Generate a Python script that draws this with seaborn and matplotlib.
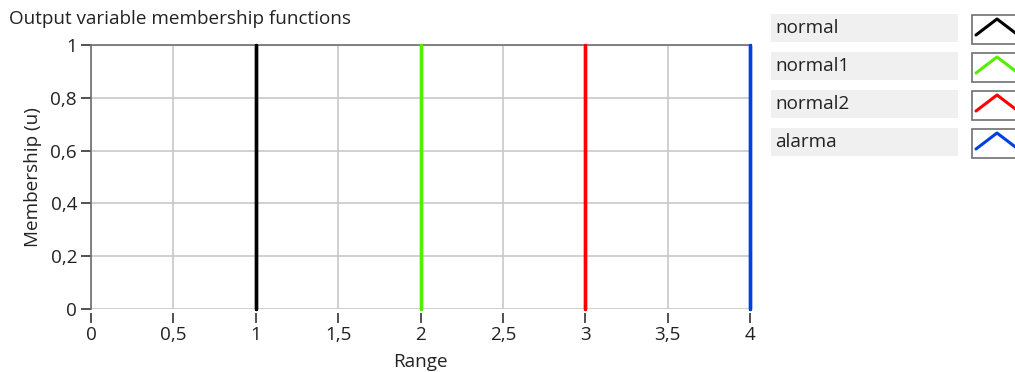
import matplotlib as mpl
mpl.use("Agg")
import matplotlib.pyplot as plt
import seaborn as sns
import pandas as pd
from matplotlib.ticker import FuncFormatter
from matplotlib.patches import Rectangle

# membership functions (singletons drawn as degenerate triangles)
nombres = ["normal", "normal1", "normal2", "alarma"]
centros = [1, 2, 3, 4]
colores = ["#000000", "#55ee00", "#ff0000", "#0040e0"]
triangulo_y = [0, 1, 0]

x_ticks = [0, 0.5, 1, 1.5, 2, 2.5, 3, 3.5, 4]
y_ticks = [0, 0.2, 0.4, 0.6, 0.8, 1]

filas = []
for n, c in zip(nombres, centros):
  for i, yv in enumerate(triangulo_y):
    filas.append({"nombre": n, "x": c, "y": yv, "orden": i})
df = pd.DataFrame(filas)

sns.set_style("white")
plt.rcParams['font.family'] = ['Open Sans', 'DejaVu Sans']
FS = 13.6
TXT = "#222222"

W, H = 1015, 372
fig = plt.figure(figsize=(W / 100, H / 100), dpi=100)

def px(x0, y0, x1, y1):
  return [x0 / W, 1 - y1 / H, (x1 - x0) / W, (y1 - y0) / H]

ax = fig.add_axes(px(91, 45, 750, 309))
sns.lineplot(data=df, x="x", y="y", hue="nombre", palette=dict(zip(nombres, colores)),
             estimator=None, sort=False, units="nombre", linewidth=2.4, legend=False, ax=ax)
for ln in ax.lines:
  ln.set_clip_on(False)
  ln.set_zorder(4)

ax.set_xlim(0, 4)
ax.set_ylim(0, 1)
ax.set_xticks(x_ticks)
ax.set_yticks(y_ticks)
fmt = FuncFormatter(lambda v, p: f"{v:g}".replace(".", ","))
ax.xaxis.set_major_formatter(fmt)
ax.yaxis.set_major_formatter(fmt)
ax.grid(True, color="#c8c8c8", linewidth=1.2)
ax.set_axisbelow(True)
for s in ["left", "top"]:
  ax.spines[s].set_color("#6e6e6e")
  ax.spines[s].set_linewidth(1.2)
ax.spines["right"].set_color("#c8c8c8")
ax.spines["right"].set_linewidth(1.2)
# bottom ticks sit a little below the plot area
ax.spines["bottom"].set_position(("outward", 3))
ax.spines["bottom"].set_color("none")
ax.tick_params(axis="y", direction="out", length=7, width=1.2, color="#333333",
               labelsize=FS, pad=3, left=True, labelcolor=TXT)
ax.tick_params(axis="x", direction="out", length=7, width=1.2, color="#333333",
               labelsize=FS, pad=2, bottom=True, labelcolor=TXT)
ax.set_xlabel("Range", fontsize=FS, labelpad=7, color=TXT)
ax.set_ylabel("Membership (u)", fontsize=FS, labelpad=6, color=TXT)
fig.text(9 / W, 1 - 19 / H, "Output variable membership functions", fontsize=FS,
         va="center", ha="left", color=TXT)

# legend panel
lg = fig.add_axes([0, 0, 1, 1])
lg.set_xlim(0, W)
lg.set_ylim(H, 0)
lg.axis("off")
for i, (n, col) in enumerate(zip(nombres, colores)):
  y0 = 14 + i * 38
  lg.add_patch(Rectangle((771, y0), 187, 28, facecolor="#f0f0f0", edgecolor="none"))
  lg.text(775, y0 + 14, n, fontsize=FS, va="center", ha="left", color=TXT)
  lg.add_patch(Rectangle((972, y0 + 1), 60, 29, facecolor="white", edgecolor="#707070",
                         linewidth=1.2))
  lg.plot([976, 997, 1018], [y0 + 21, y0 + 5, y0 + 21], color=col, linewidth=2.2)

fig.savefig("out.png", dpi=100)
